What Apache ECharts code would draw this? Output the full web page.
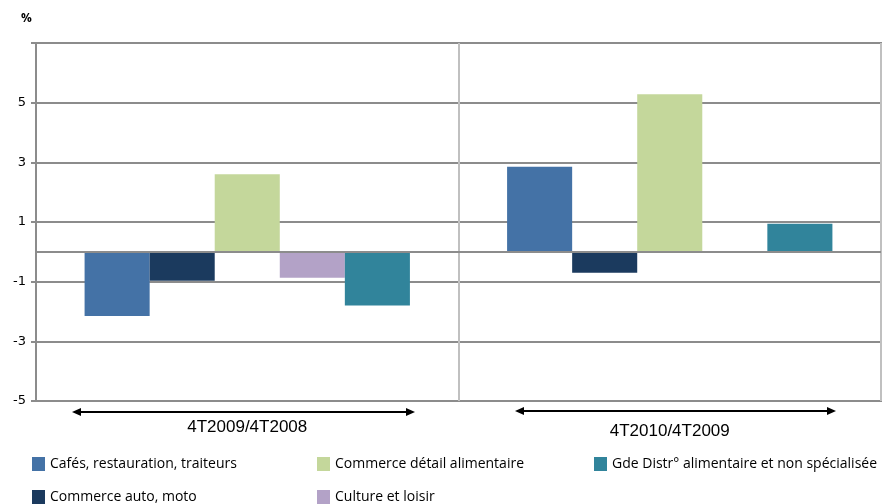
<!DOCTYPE html>
<html>
	<head>
		<meta charset="UTF-8">
		<title></title>
		<style>
			html,body{
				margin:0px;
				height:100%;
				background:#fff;
			}
			#chart {
				width:884px;
				height:504px;
			}
		</style>
	</head>
	<body>
		<div id="chart"></div>
		<script src="https://cdn.jsdelivr.net/npm/echarts@6/dist/echarts.min.js"></script>
		<script>
			// periodes
			var periodes = ['4T2009/4T2008', '4T2010/4T2009'];
			// secteurs (ordre des barres)
			var secteurs = ['Cafés, restauration, traiteurs', 'Commerce auto, moto', 'Commerce détail alimentaire', 'Culture et loisir', 'Gde Distr° alimentaire et non spécialisée'];
			var couleurs = ['#4472a6', '#1b3a5e', '#c4d79b', '#b3a2c7', '#31849b'];
			// valeurs en %
			var cafes = [-2.15, 2.85];
			var auto = [-0.97, -0.70];
			var detail = [2.60, 5.28];
			var culture = [-0.87, null];
			var gde = [-1.80, 0.94];
			var valeurs = [cafes, auto, detail, culture, gde];
			var yTicks = [-5, -3, -1, 1, 3, 5, 7];

			var chart = echarts.init(document.getElementById('chart'));

			var series = [];
			for (var i = 0; i < secteurs.length; i++) {
				series.push({
					name: secteurs[i],
					type: 'bar',
					barGap: '0%',
					barCategoryGap: '23%',
					itemStyle: { color: couleurs[i] },
					data: valeurs[i]
				});
			}
			// ligne du zero
			series[0].markLine = {
				silent: true,
				symbol: 'none',
				label: { show: false },
				lineStyle: { color: '#8c8c8c', width: 2, type: 'solid' },
				data: [{ yAxis: 0 }]
			};

			var legendText = { fontFamily: 'Open Sans, sans-serif', fontSize: 14, color: '#000' };
			// une legende par case (3 colonnes x 2 lignes)
			function legendItem(left, top, name) {
				return {
					left: left, top: top,
					itemWidth: 13, itemHeight: 14,
					icon: 'rect', selectedMode: false,
					textStyle: legendText,
					data: [name]
				};
			}

			// fleches sous les periodes
			function fleche(x1, x2, y) {
				return [
					{ type: 'line', shape: { x1: x1 + 6, y1: y, x2: x2 - 6, y2: y }, style: { stroke: '#000', lineWidth: 2 } },
					{ type: 'polygon', shape: { points: [[x1, y], [x1 + 9, y - 4], [x1 + 9, y + 4]] }, style: { fill: '#000' } },
					{ type: 'polygon', shape: { points: [[x2, y], [x2 - 9, y - 4], [x2 - 9, y + 4]] }, style: { fill: '#000' } }
				];
			}

			var option = {
				animation: false,
				title: {
					text: '%', left: 16, top: 8,
					textStyle: { fontSize: 12, fontWeight: 'bold', fontFamily: 'Open Sans, sans-serif', color: '#000' }
				},
				grid: { left: 36, right: 3, top: 43, bottom: 103, show: true, borderColor: '#8c8c8c', borderWidth: 2 },
				legend: [
					legendItem(27, 452, secteurs[0]),
					legendItem(27, 485, secteurs[1]),
					legendItem(312, 452, secteurs[2]),
					legendItem(312, 485, secteurs[3]),
					legendItem(589, 452, secteurs[4])
				],
				xAxis: {
					type: 'category',
					data: periodes,
					axisLine: { show: false },
					axisTick: { show: false },
					splitLine: { show: true, lineStyle: { color: '#c0c0c0', width: 2 } },
					axisLabel: {
						margin: 18,
						color: '#000',
						formatter: function (v, idx) { return idx === 0 ? '{a|' + v + '}' : '{b|' + v + '}'; },
						rich: {
							a: { fontFamily: 'Liberation Sans, Arial, sans-serif', fontSize: 17, color: '#000' },
							b: { fontFamily: 'Liberation Sans, Arial, sans-serif', fontSize: 17, color: '#000', padding: [4, 0, 0, 0] }
						}
					}
				},
				yAxis: {
					type: 'value',
					min: yTicks[0],
					max: yTicks[yTicks.length - 1],
					interval: 2,
					axisLine: { show: true, lineStyle: { color: '#8c8c8c', width: 2 } },
					axisTick: { show: true, length: 5, lineStyle: { color: '#8c8c8c', width: 2 } },
					splitLine: { show: true, lineStyle: { color: '#8c8c8c', width: 2 } },
					axisLabel: {
						margin: 10,
						fontFamily: 'DejaVu Sans, Verdana, sans-serif',
						fontSize: 13,
						color: '#000',
						formatter: function (v) { return v === 7 ? '' : String(v); }
					}
				},
				graphic: fleche(72, 415, 412).concat(fleche(515, 836, 411)),
				series: series
			};
			chart.setOption(option, true);
		</script>
	</body>
</html>
